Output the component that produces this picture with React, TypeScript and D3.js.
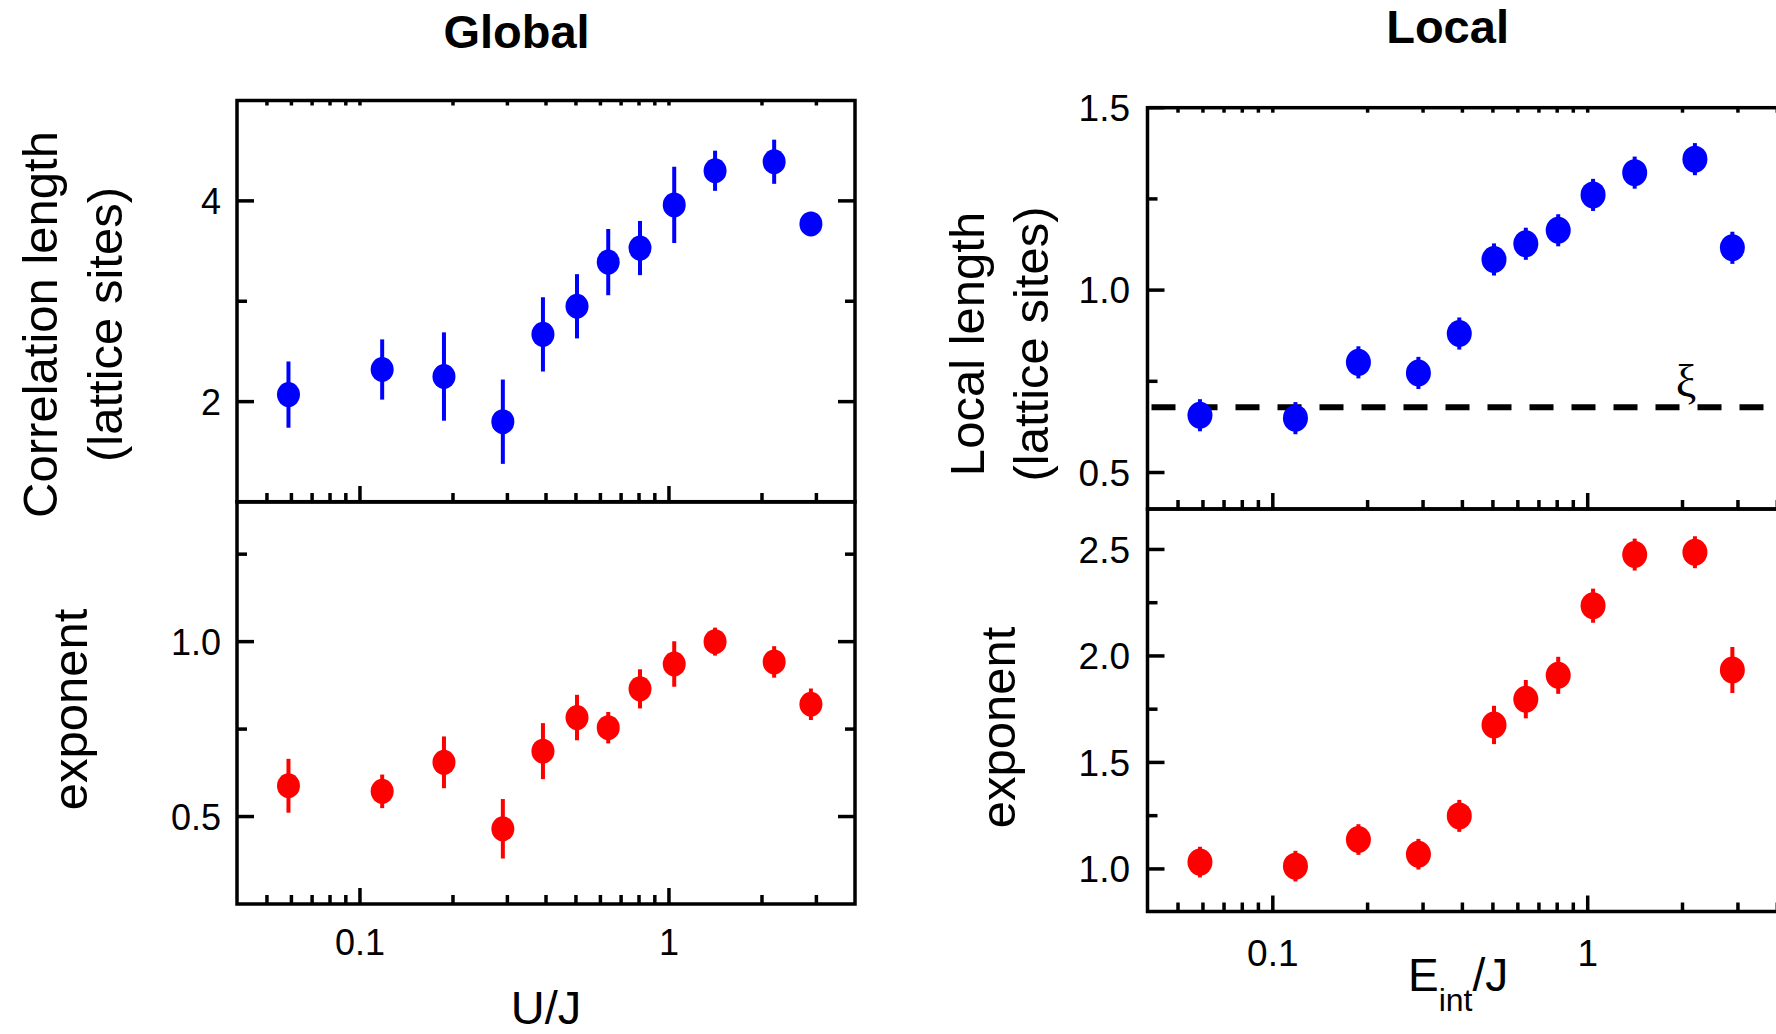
import React from "react";
import * as d3 from "d3";

// ---------- data ----------
const xValues = [0.0587, 0.118, 0.187, 0.29, 0.391, 0.504, 0.636, 0.806, 1.04, 1.41, 2.19, 2.88];

const globalLength = [2.07, 2.32, 2.25, 1.8, 2.67, 2.95, 3.39, 3.53, 3.96, 4.3, 4.39, 3.77];
const globalLengthErr = [0.33, 0.3, 0.44, 0.42, 0.37, 0.32, 0.33, 0.27, 0.38, 0.2, 0.22, 0.12];

const globalExponent = [0.588, 0.572, 0.655, 0.465, 0.687, 0.783, 0.754, 0.865, 0.936, 1.0, 0.942, 0.821];
const globalExponentErr = [0.077, 0.048, 0.074, 0.085, 0.08, 0.065, 0.045, 0.056, 0.065, 0.04, 0.045, 0.045];

const localLength = [0.657, 0.649, 0.802, 0.773, 0.881, 1.084, 1.127, 1.164, 1.261, 1.322, 1.359, 1.116];
const localLengthErr = [0.044, 0.044, 0.044, 0.044, 0.044, 0.044, 0.044, 0.044, 0.044, 0.044, 0.044, 0.044];

const localExponent = [1.032, 1.013, 1.138, 1.069, 1.249, 1.676, 1.797, 1.909, 2.236, 2.476, 2.487, 1.934];
const localExponentErr = [0.072, 0.072, 0.072, 0.072, 0.075, 0.09, 0.09, 0.087, 0.08, 0.075, 0.075, 0.108];

const xiLevel = 0.679;

const xMajorTicks = [0.1, 1];
const yTicksGlobalTop = { major: [2, 4], minor: [3] };
const yTicksGlobalBot = { major: [0.5, 1.0], minor: [0.75, 1.25] };
const yTicksLocalTop = { major: [0.5, 1.0, 1.5], minor: [0.75, 1.25] };
const yTicksLocalBot = { major: [1.0, 1.5, 2.0, 2.5], minor: [1.25, 1.75, 2.25] };

const BLUE = "#0000ff";
const RED = "#ff0000";
const SANS = "'Liberation Sans', Arial, Helvetica, sans-serif";
const SERIF = "'Liberation Serif', 'DejaVu Serif', serif";

function minorLogTicks(domain: number[]) {
  const out: number[] = [];
  for (const dec of [0.01, 0.1, 1, 10]) {
    for (let k = 2; k <= 9; k++) {
      const v = dec * k;
      if (v > domain[0] * 1.001 && v < domain[1] * 0.999) out.push(v);
    }
  }
  return out;
}

type PanelProps = {
  x: d3.ScaleLogarithmic<number, number>;
  y: d3.ScaleLinear<number, number>;
  values: number[];
  errs: number[];
  color: string;
  yTicks: { major: number[]; minor: number[] };
  topTicks: boolean;
  yLabelX: number;
  tickFont: number;
  rx: number;
  ry: number;
  fmt: (v: number) => string;
};

function Panel({ x, y, values, errs, color, yTicks, topTicks, yLabelX, tickFont, rx, ry, fmt }: PanelProps) {
  const [x0, x1] = x.range();
  const [yb, yt] = y.range();
  const minors = minorLogTicks(x.domain());
  const sw = 3.5;
  return (
    <g>
      {xMajorTicks.map((t) => (
        <line key={"xb" + t} x1={x(t)} x2={x(t)} y1={yb} y2={yb - 16} stroke="#000" strokeWidth={sw} />
      ))}
      {minors.map((t) => (
        <line key={"xbm" + t} x1={x(t)} x2={x(t)} y1={yb} y2={yb - 9} stroke="#000" strokeWidth={sw} />
      ))}
      {topTicks &&
        [...xMajorTicks, ...minors].map((t) => (
          <line key={"xt" + t} x1={x(t)} x2={x(t)} y1={yt} y2={yt + 5} stroke="#000" strokeWidth={sw} />
        ))}
      {yTicks.major.map((t) => (
        <g key={"ym" + t}>
          <line x1={x0} x2={x0 + 17} y1={y(t)} y2={y(t)} stroke="#000" strokeWidth={sw} />
          <line x1={x1} x2={x1 - 17} y1={y(t)} y2={y(t)} stroke="#000" strokeWidth={sw} />
          <text x={yLabelX} y={y(t)} dy="0.36em" textAnchor="end" fontFamily={SANS} fontSize={tickFont}>
            {fmt(t)}
          </text>
        </g>
      ))}
      {yTicks.minor.map((t) => (
        <g key={"yn" + t}>
          <line x1={x0} x2={x0 + 10} y1={y(t)} y2={y(t)} stroke="#000" strokeWidth={sw} />
          <line x1={x1} x2={x1 - 10} y1={y(t)} y2={y(t)} stroke="#000" strokeWidth={sw} />
        </g>
      ))}
      {values.map((v, i) => (
        <line
          key={"e" + i}
          x1={x(xValues[i])}
          x2={x(xValues[i])}
          y1={y(v - errs[i])}
          y2={y(v + errs[i])}
          stroke={color}
          strokeWidth={4}
        />
      ))}
      {values.map((v, i) => (
        <ellipse key={"c" + i} cx={x(xValues[i])} cy={y(v)} rx={rx} ry={ry} fill={color} />
      ))}
      <rect x={x0} y={yt} width={x1 - x0} height={yb - yt} fill="none" stroke="#000" strokeWidth={sw} />
    </g>
  );
}

export default function App() {
  const xG = d3.scaleLog().domain([0.04, 4]).range([237, 855]);
  const yGTop = d3.scaleLinear().domain([1, 5]).range([502, 100.5]);
  const yGBot = d3.scaleLinear().domain([0.25, 1.4]).range([904, 501.7]);

  const xL = d3.scaleLog().domain([0.04, 4.5]).range([1147.5, 1793.4]);
  const yLTop = d3.scaleLinear().domain([0.4, 1.5]).range([509, 107.7]);
  const yLBot = d3.scaleLinear().domain([0.8, 2.69]).range([911.5, 509]);

  const f0 = (v: number) => d3.format("d")(v);
  const f1 = (v: number) => d3.format(".1f")(v);
  const fx = (v: number) => (v < 1 ? d3.format(".1f")(v) : d3.format("d")(v));

  const tickFontG = 36;
  const tickFontL = 37;

  return (
    <svg
      width={1776}
      height={1034}
      style={{ position: "absolute", left: 0, top: 0, background: "#fff", overflow: "hidden" }}
    >
      <rect x={0} y={0} width={1776} height={1034} fill="#fff" />
      <text x={516.5} y={48} textAnchor="middle" fontFamily={SANS} fontWeight="bold" fontSize={47}>
        Global
      </text>
      <text x={1447.6} y={43} textAnchor="middle" fontFamily={SANS} fontWeight="bold" fontSize={47}>
        Local
      </text>

      <Panel x={xG} y={yGTop} values={globalLength} errs={globalLengthErr} color={BLUE}
        yTicks={yTicksGlobalTop} topTicks={true} yLabelX={221} tickFont={tickFontG} rx={11.5} ry={12.5} fmt={f0} />
      <Panel x={xG} y={yGBot} values={globalExponent} errs={globalExponentErr} color={RED}
        yTicks={yTicksGlobalBot} topTicks={false} yLabelX={221} tickFont={tickFontG} rx={11.5} ry={12.5} fmt={f1} />
      {xMajorTicks.map((t) => (
        <text key={"gx" + t} x={xG(t)} y={955} textAnchor="middle" fontFamily={SANS} fontSize={tickFontG}>
          {fx(t)}
        </text>
      ))}
      <text x={546} y={1024} textAnchor="middle" fontFamily={SANS} fontSize={47}>U/J</text>
      <text transform="translate(57,324.5) rotate(-90)" textAnchor="middle" fontFamily={SANS} fontSize={49}>
        Correlation length
      </text>
      <text transform="translate(122,324.5) rotate(-90)" textAnchor="middle" fontFamily={SANS} fontSize={49}>
        (lattice sites)
      </text>
      <text transform="translate(87,709.5) rotate(-90)" textAnchor="middle" fontFamily={SANS} fontSize={49}>
        exponent
      </text>

      <line
        x1={xL.range()[0] + 4}
        x2={1776}
        y1={yLTop(xiLevel)}
        y2={yLTop(xiLevel)}
        stroke="#000"
        strokeWidth={6}
        strokeDasharray="24 18"
      />
      <Panel x={xL} y={yLTop} values={localLength} errs={localLengthErr} color={BLUE}
        yTicks={yTicksLocalTop} topTicks={true} yLabelX={1130} tickFont={tickFontL} rx={12.5} ry={13.5} fmt={f1} />
      <Panel x={xL} y={yLBot} values={localExponent} errs={localExponentErr} color={RED}
        yTicks={yTicksLocalBot} topTicks={false} yLabelX={1130} tickFont={tickFontL} rx={12.5} ry={13.5} fmt={f1} />
      <text x={1686} y={397} textAnchor="middle" fontFamily={SERIF} fontSize={46}>ξ</text>
      {xMajorTicks.map((t) => (
        <text key={"lx" + t} x={xL(t)} y={966} textAnchor="middle" fontFamily={SANS} fontSize={tickFontL}>
          {fx(t)}
        </text>
      ))}
      <text x={1408} y={991} fontFamily={SANS} fontSize={46}>
        E
        <tspan fontSize={32} dy={20}>int</tspan>
        <tspan dy={-20}>/J</tspan>
      </text>
      <text transform="translate(984,344) rotate(-90)" textAnchor="middle" fontFamily={SANS} fontSize={49}>
        Local length
      </text>
      <text transform="translate(1048,344) rotate(-90)" textAnchor="middle" fontFamily={SANS} fontSize={49}>
        (lattice sites)
      </text>
      <text transform="translate(1015,727.5) rotate(-90)" textAnchor="middle" fontFamily={SANS} fontSize={49}>
        exponent
      </text>
    </svg>
  );
}
